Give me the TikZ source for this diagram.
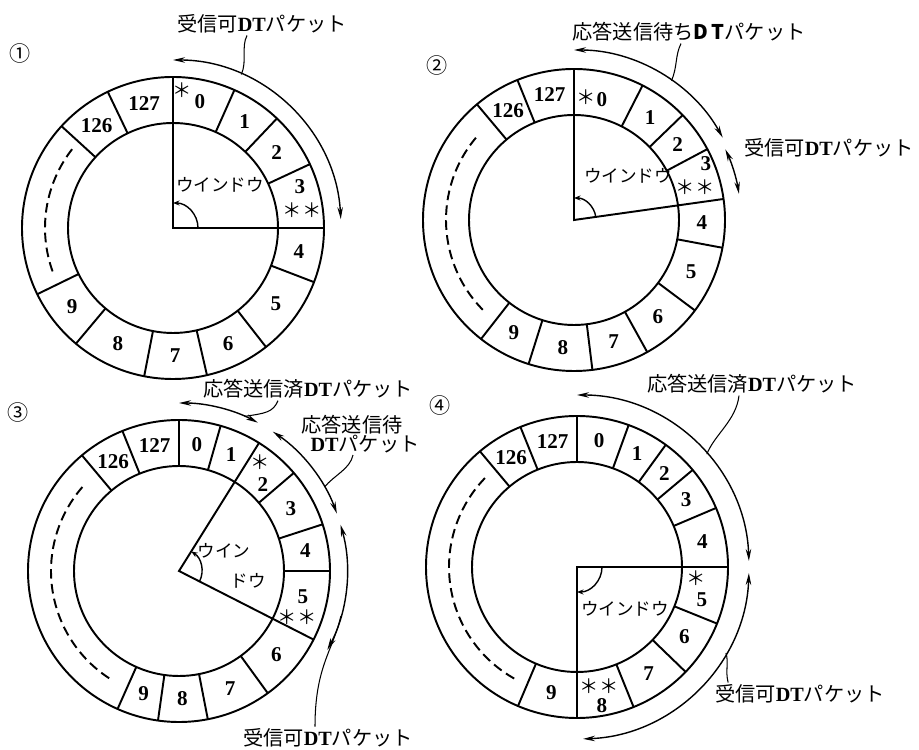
\documentclass[tikz,border=0pt]{standalone}
\usepackage{fontspec}
\setmainfont{Liberation Serif}
\newfontfamily\jpfont{Noto Sans CJK JP}
\usetikzlibrary{arrows.meta,calc}
\newcommand{\ringout}{151}
\newcommand{\ringin}{105}
\newcommand{\ringmid}{128}
\newcommand{\dt}{{\rmfamily\bfseries DT}}
% two circles and the cell walls at the given angles
\newcommand{\ringframe}[1]{%
  \draw[ringline] (0,0) circle (\ringout) (0,0) circle (\ringin);
  \foreach \a in {#1} \draw[ringline] (\a:\ringin) -- (\a:\ringout);}
\tikzset{
  ringline/.style = {line width=1.1pt},
  gapline/.style  = {line width=1.1pt, dash pattern=on 5.5pt off 3pt},
  cellnum/.style  = {font=\fontsize{12}{13}\selectfont\bfseries, inner sep=0pt},
  astmark/.style  = {font=\jpfont\fontsize{11}{12}\selectfont, inner sep=0pt},
  winlbl/.style   = {font=\jpfont\fontsize{10}{11}\selectfont, inner sep=0pt},
  jlabel/.style   = {font=\jpfont\fontsize{11.5}{13}\selectfont, inner sep=1pt},
  numtag/.style   = {font=\jpfont\fontsize{12}{14}\selectfont, inner sep=0pt},
  span/.style     = {<->, >={Stealth[length=2.4mm,width=1.1mm]}, line width=0.8pt},
  winarc/.style   = {-{Stealth[length=1.3mm,width=1mm]}, line width=0.8pt},
  leader/.style   = {line width=0.6pt},
}
\begin{document}
\begin{tikzpicture}[x=0.2mm,y=0.2mm]
\useasboundingbox (0,0) rectangle (919,750);
% ---- 1
\node[numtag] (n1) at (20,697) {①};
\begin{scope}[shift={(173,522)}]
\coordinate (O1) at (0,0);
\ringframe{137.6,115.6,66,46.5,25,-21,-52,-77,-101,-130,-154}
\draw[ringline] (90:\ringout) -- (O1) -- (0:\ringout);
\draw[gapline] (142:\ringmid) arc[start angle=142,end angle=200.6,radius=\ringmid];
\foreach \n/\a in {126/126.6,127/103,1/56,2/36,4/-10.5,5/-36.5,6/-64.5,7/-89,8/-115.5,9/-142}
  \node[cellnum] (a\n) at (\a:\ringmid) {\n};
\node[astmark] (a0s) at (9,138) {＊};
\node[cellnum] (a0) at (27,126) {0};
\node[cellnum] (a3) at (127,41) {3};
\node[astmark] (a3s) at (129,18) {＊＊};
\node[winlbl] (w1) at (47,43) {ウインドウ};
\draw[winarc] (0:25) arc[start angle=0,end angle=90,radius=25];
\draw[span] (90:168) arc[start angle=90,end angle=3,radius=168];
\coordinate (t1) at (66:168);
\end{scope}
\node[jlabel] (L1) at (262,726) {受信可\dt パケット};
\draw[leader] ($(L1.south)+(-15,0)$) .. controls +(-6,-12) and +(6,14) .. (t1);
% ---- 2
\node[numtag] (n2) at (437,685) {②};
\begin{scope}[shift={(574,530)}]
\coordinate (O2) at (0,0);
\ringframe{130,112,63,44,28,-10.6,-36.8,-61,-83,-107.5,-128}
\draw[ringline] (90:\ringout) -- (O2) -- (8:\ringout);
\draw[gapline] (140:\ringmid) arc[start angle=140,end angle=226,radius=\ringmid];
\foreach \n/\a in {126/121,127/101,1/53.5,2/36,4/-1.3,5/-23.7,6/-49,7/-72,8/-95,9/-118}
  \node[cellnum] (b\n) at (\a:\ringmid) {\n};
\node[astmark] (b0s) at (12,123) {＊};
\node[cellnum] (b0) at (28,120) {0};
\node[cellnum] (b3) at (132,56) {3};
\node[astmark] (b3s) at (121,33) {＊＊};
\node[winlbl] (w2) at (54,44) {ウインドウ};
\draw[winarc] (8:22) arc[start angle=8,end angle=90,radius=22];
\draw[span] (90:170) arc[start angle=90,end angle=29,radius=170];
\draw[span] (25:167) arc[start angle=25,end angle=9,radius=167];
\coordinate (t2) at (55:170);
\end{scope}
\node[jlabel] (L2a) at (689,718) {応答送信待ち\textbf{D\,T}パケット};
\node[jlabel] (L2b) at (829,602) {受信可\dt パケット};
\draw[leader] ($(L2a.south)+(-8,0)$) .. controls +(-6,-12) and +(6,14) .. (t2);
% ---- 3
\node[numtag] (n3) at (18,338) {③};
\begin{scope}[shift={(179,179)}]
\coordinate (O3) at (0,0);
\ringframe{130,112,90,74,40.5,18,0,-54,-79,-98,-114}
\draw[ringline] (58:\ringout) -- (O3) -- (-27:\ringout);
\draw[gapline] (139:\ringmid) arc[start angle=139,end angle=238,radius=\ringmid];
\foreach \n/\a in {126/121,127/101,0/82,1/66,3/29,4/9,6/-40.5,7/-66.5,8/-88.5,9/-106}
  \node[cellnum] (c\n) at (\a:\ringmid) {\n};
\node[astmark] (c2s) at (81,109) {＊};
\node[cellnum] (c2) at (84,86) {2};
\node[cellnum] (c5) at (124,-26) {5};
\node[astmark] (c5s) at (118,-46) {＊＊};
\node[winlbl] (w3a) at (45,20) {ウイン};
\node[winlbl] (w3b) at (69,-10) {ドウ};
\draw[winarc] (-27:23) arc[start angle=-27,end angle=58,radius=23];
\draw[span] (90:168) arc[start angle=90,end angle=62,radius=168];
\draw[span] (56:168) arc[start angle=56,end angle=20,radius=168];
\draw[span] (16:168) arc[start angle=16,end angle=-28,radius=168];
\coordinate (t3a) at (67:168);
\coordinate (t3b) at (30:168);
\coordinate (t3c) at (-15.5:168);
\end{scope}
\node[jlabel] (L3a) at (308,361) {応答送信済\dt パケット};
\node[jlabel] (L3b) at (352,325) {応答送信待};
\node[jlabel] (L3c) at (365,306) {\dt パケット};
\node[jlabel] (L3d) at (328,12) {受信可\dt パケット};
\draw[leader] ($(L3a.south)+(-30,0)$) .. controls +(-5,-12) and +(20,3) .. (t3a);
\draw[leader] ($(L3c.south)+(-12,0)$) .. controls +(-3,-14) and +(10,12) .. (t3b);
\draw[leader] ($(L3d.north)+(-13,0)$) .. controls +(0,60) and +(-8,-35) .. (t3c);
% ---- 4
\node[numtag] (n4) at (440,345) {④};
\begin{scope}[shift={(577,183)}]
\coordinate (O4) at (0,0);
\ringframe{130,112,90,70,54,40,23,-22,-44,-68,-113}
\draw[ringline] (0:\ringout) -- (O4) -- (-90:\ringout);
\draw[gapline] (136:\ringmid) arc[start angle=136,end angle=242,radius=\ringmid];
\foreach \n/\a in {126/121,127/101,0/80,1/62,2/47,3/31.5,4/11.5,6/-33,7/-56,9/-101.5}
  \node[cellnum] (d\n) at (\a:\ringmid) {\n};
\node[astmark] (d5s) at (119,-11) {＊};
\node[cellnum] (d5) at (125,-33) {5};
\node[astmark] (d8s) at (22,-119) {＊＊};
\node[cellnum] (d8) at (25,-139) {8};
\node[winlbl] (w4) at (48,-42) {ウインドウ};
\draw[winarc] (0:25) arc[start angle=0,end angle=-90,radius=25];
\draw[span] (90:172) arc[start angle=90,end angle=2,radius=172];
\draw[span] (-2:172) arc[start angle=-2,end angle=-88,radius=172];
\coordinate (t4a) at (41:172);
\coordinate (t4b) at (-30:172);
\end{scope}
\node[jlabel] (L4a) at (752,366) {応答送信済\dt パケット};
\node[jlabel] (L4b) at (800,56) {受信可\dt パケット};
\draw[leader] ($(L4a.south)+(-13,0)$) .. controls +(-3,-25) and +(8,20) .. (t4a);
\draw[leader] ($(L4b.north west)+(15,0)$) .. controls +(-3,12) and +(3,-10) .. (t4b);
\end{tikzpicture}
\end{document}
